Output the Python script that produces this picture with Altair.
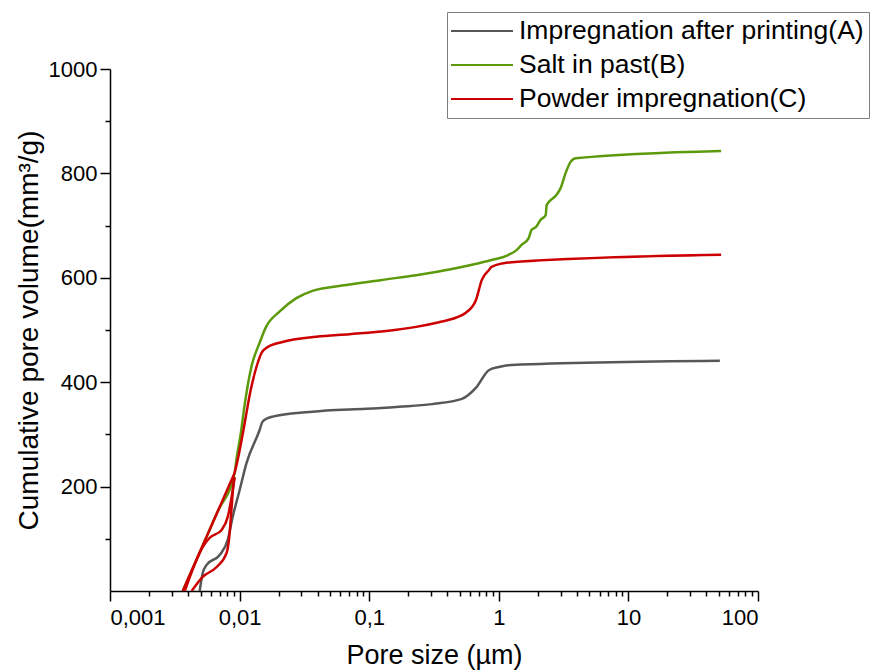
import altair as alt
import pandas as pd

# Series names (legend order)
SERIES = ["Impregnation after printing(A)", "Salt in past(B)", "Powder impregnation(C)"]
COLORS = ["#575757", "#5c9a0c", "#cc0000"]

# Impregnation after printing (A): pore size (µm) and cumulative volume (mm³/g)
a_size = [0.00492, 0.00519, 0.00557, 0.00702, 0.0081, 0.00884, 0.0100, 0.0113,
          0.01425, 0.0150, 0.0165, 0.0180, 0.0345, 0.0467, 0.0947, 0.170, 0.305,
          0.519, 0.665, 0.838, 1.00, 1.26, 50.8]
a_vol = [0, 34, 50, 69, 98, 142, 193, 245,
         308, 324, 331, 334, 343, 346, 349, 353, 358,
         368, 389, 423, 429, 433, 441]

# Salt in past (B)
b_size = [0.00364, 0.00495, 0.00673, 0.00915, 0.00944, 0.0103, 0.0108, 0.0124,
          0.01425, 0.0160, 0.0203, 0.0274, 0.0365, 0.0665, 0.126, 0.230, 0.435,
          0.70, 0.88, 1.19, 1.37, 1.50, 1.70, 1.79, 1.93, 2.10, 2.30, 2.34,
          2.43, 2.79, 3.00, 3.28, 3.58, 3.91, 51.9]
b_vol = [0, 75, 151, 226, 251, 308, 347, 432,
         475, 506, 535, 561, 575, 586, 596, 605, 617,
         628, 634, 644, 653, 663, 676, 692, 697, 711, 720, 739,
         745, 759, 772, 801, 822, 829, 843]

# Powder impregnation (C): the small-pore end crosses itself, so the curve
# is kept as four branches (c_seg), each listed by increasing pore size
c_seg = [1] * 21 + [2] * 2 + [3] * 7 + [4] * 8
c_size = [0.00915, 0.00966, 0.0107, 0.0122, 0.0136, 0.01476, 0.01614, 0.0214,
          0.0391, 0.0702, 0.135, 0.230, 0.345, 0.470, 0.557, 0.665, 0.74,
          0.84, 0.88, 1.26, 51.9,
          0.00364, 0.00915,
          0.00378, 0.00519, 0.00588, 0.00727, 0.0081, 0.00868, 0.00915,
          0.00427, 0.00519, 0.00665, 0.00794, 0.00838, 0.00868, 0.00899,
          0.00915]
c_vol = [226, 251, 308, 386, 432, 456, 466, 477,
         487, 492, 498, 506, 515, 524, 533, 557, 596,
         615, 621, 630, 644,
         0, 226,
         0, 84, 102, 117, 142, 180, 218,
         0, 27, 46, 73, 111, 161, 207,
         218]

# Axis tick values
x_major = [0.001, 0.01, 0.1, 1, 10, 100]
x_minor = [m * 10.0 ** k for k in range(-3, 2) for m in range(2, 10)]
y_major = [200, 400, 600, 800, 1000]
y_minor = [100, 300, 500, 700, 900]


def frame(name, sizes, vols, segs=None):
    return pd.DataFrame({"series": name, "size": sizes, "vol": vols,
                         "seg": segs if segs else [1] * len(sizes),
                         "i": list(range(len(sizes)))})


df_a = frame(SERIES[0], a_size, a_vol)
df_b = frame(SERIES[1], b_size, b_vol)
df_c = frame(SERIES[2], c_size, c_vol, c_seg)

FONT = "Liberation Sans"

x_scale = alt.Scale(type="log", domain=[0.001, 100], nice=False)
y_scale = alt.Scale(domain=[0, 1000], nice=False, zero=False)
color_scale = alt.Scale(domain=SERIES, range=COLORS)

x_axis = alt.Axis(
    orient="bottom", values=x_major, title="Pore size (µm)",
    labelExpr="replace(format(datum.value, '~g'), '.', ',')",
    tickSize=10, tickWidth=1.5, tickColor="black",
    domainColor="black", domainWidth=1.5,
    labelFont=FONT, labelFontSize=22, labelColor="black", labelPadding=6,
    titleFont=FONT, titleFontSize=27, titleFontWeight="normal",
    titleColor="black", titlePadding=14, grid=False,
)
y_axis = alt.Axis(
    orient="left", values=y_major, format="d",
    title="Cumulative pore volume(mm³/g)",
    tickSize=10, tickWidth=1.5, tickColor="black",
    domainColor="black", domainWidth=1.5,
    labelFont=FONT, labelFontSize=22, labelColor="black", labelPadding=3,
    titleFont=FONT, titleFontSize=28, titleFontWeight="normal",
    titleColor="black", titlePadding=5, grid=False,
)

# Legend key: a long horizontal stroke drawn as a custom path
legend = alt.Legend(
    title=None, orient="none", legendX=337, legendY=-57,
    symbolType="M-2.385,0H2.385", symbolSize=676, symbolStrokeWidth=2,
    symbolOffset=16,
    labelFont=FONT, labelFontSize=26.5, labelColor="black", labelLimit=600,
    labelOffset=23, rowPadding=6, padding=5,
    strokeColor="#7f7f7f", fillColor="white",
)


def series_layer(df, axes):
    kw_x = dict(scale=x_scale, axis=x_axis if axes else None)
    kw_y = dict(scale=y_scale, axis=y_axis if axes else None)
    return alt.Chart(df).mark_line(strokeWidth=2.5, clip=True,
                                   interpolate="monotone").encode(
        x=alt.X("size:Q", **kw_x),
        y=alt.Y("vol:Q", **kw_y),
        color=alt.Color("series:N", scale=color_scale, legend=legend),
        detail="seg:N",
        order="i:Q",
    )


layer_a = series_layer(df_a, True)
layer_b = series_layer(df_b, False)
layer_c = series_layer(df_c, False)

# Shorter unlabelled ticks between the labelled ones
minor = alt.Chart(df_a).mark_line(opacity=0).encode(
    x=alt.X("size:Q", scale=x_scale, axis=alt.Axis(
        orient="bottom", values=x_minor, labels=False, title=None,
        domain=False, grid=False, tickSize=5, tickWidth=1.5,
        tickColor="black")),
    y=alt.Y("vol:Q", scale=y_scale, axis=alt.Axis(
        orient="left", values=y_minor, labels=False, title=None,
        domain=False, grid=False, tickSize=5, tickWidth=1.5,
        tickColor="black")),
)

chart = (
    alt.layer(layer_a, layer_b, layer_c, minor)
    .resolve_axis(x="independent", y="independent")
    .properties(
        width=648, height=522, autosize="none",
        padding={"left": 110, "top": 69, "right": 114, "bottom": 80},
        background="white",
    )
    .configure_view(stroke=None)
)

chart.save("out.html", embed_options={"renderer": "svg", "actions": False})
